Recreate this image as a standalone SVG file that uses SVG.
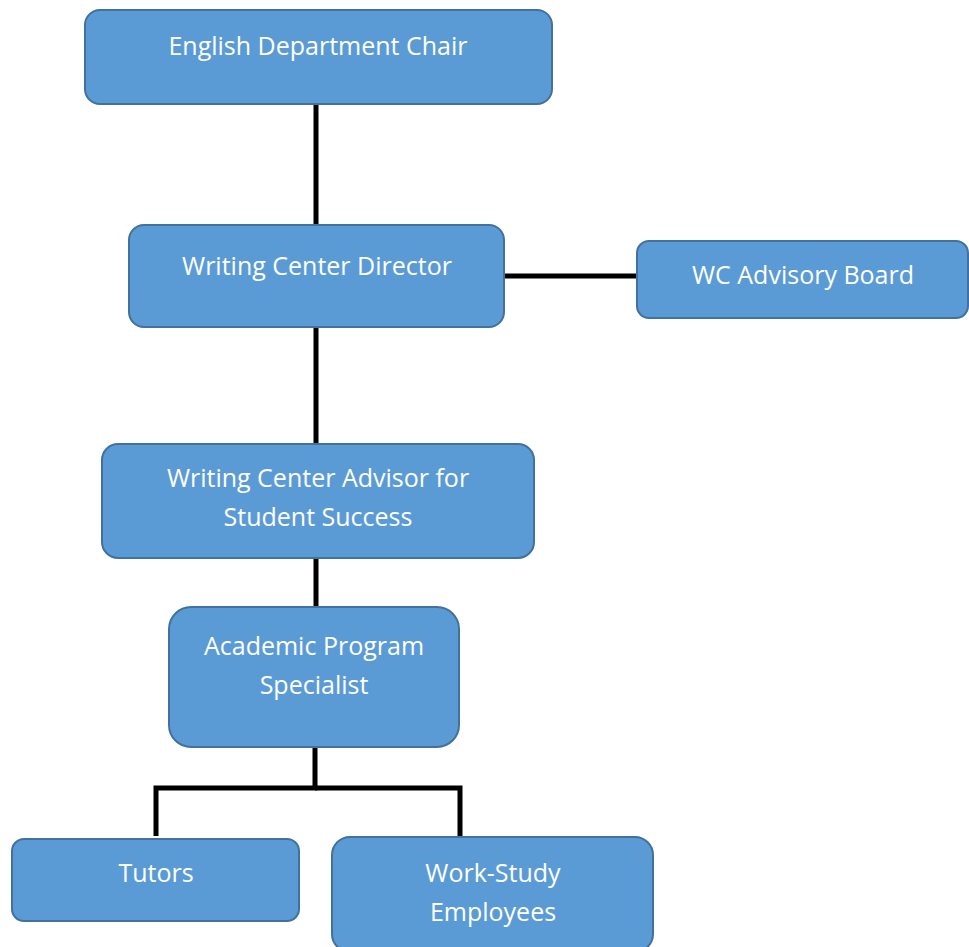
<svg xmlns="http://www.w3.org/2000/svg" width="969" height="947" viewBox="0 0 969 947">
<style>
.box{fill:#5B9BD5;stroke:#41719C;stroke-width:2}
.t{font-family:"Open Sans","Noto Sans",sans-serif;font-size:25px;fill:#fff;text-anchor:middle}
.c{stroke:#000;stroke-width:5;fill:none}
</style>
<rect width="969" height="947" fill="#fff"/>
<g id="connectors">
<line class="c" x1="316" y1="104" x2="316" y2="226"/>
<line class="c" x1="504" y1="276" x2="638" y2="276"/>
<line class="c" x1="316" y1="327" x2="316" y2="445"/>
<line class="c" x1="316" y1="558" x2="316" y2="608"/>
<polyline class="c" points="315,747 315,788 156,788 156,836"/>
<polyline class="c" points="315,788 460,788 460,836"/>
</g>
<g id="n1"><rect class="box" x="85" y="10" width="467" height="94" rx="15"/><text class="t" x="318" y="55">English Department Chair</text></g>
<g id="n2"><rect class="box" x="129" y="225" width="375" height="102" rx="15"/><text class="t" x="317" y="275">Writing Center Director</text></g>
<g id="n3"><rect class="box" x="637" y="241" width="331" height="77" rx="12"/><text class="t" x="803" y="284">WC Advisory Board</text></g>
<g id="n4"><rect class="box" x="102" y="444" width="432" height="114" rx="16"/><text class="t" x="318" y="487">Writing Center Advisor for</text><text class="t" x="318" y="526">Student Success</text></g>
<g id="n5"><rect class="box" x="169" y="607" width="290" height="140" rx="22"/><text class="t" x="314" y="655">Academic Program</text><text class="t" x="314" y="694">Specialist</text></g>
<g id="n6"><rect class="box" x="12" y="839" width="287" height="82" rx="12"/><text class="t" x="156" y="882">Tutors</text></g>
<g id="n7"><rect class="box" x="332" y="837" width="321" height="115" rx="18"/><text class="t" x="493" y="882">Work-Study</text><text class="t" x="493" y="921">Employees</text></g>
</svg>
